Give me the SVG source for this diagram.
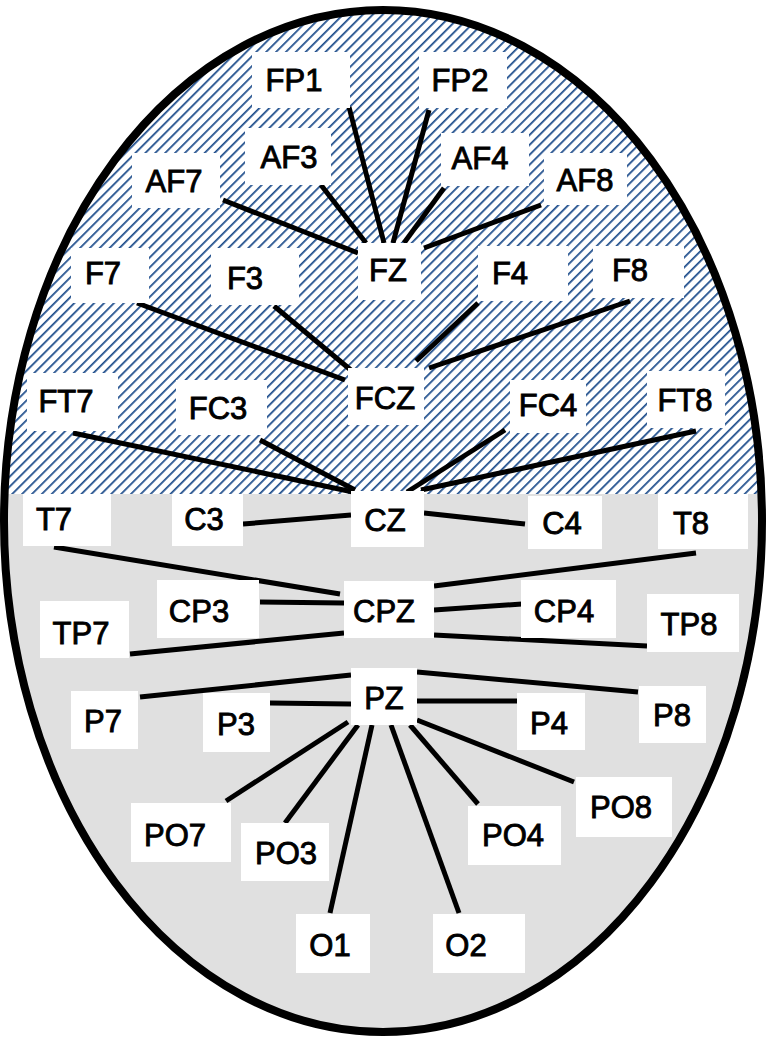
<svg xmlns="http://www.w3.org/2000/svg" width="767" height="1038" viewBox="0 0 767 1038">
<style>
.b{fill:#fff}
.t{font-family:"Liberation Sans",Arial,sans-serif;font-size:31px;fill:#000;stroke:#000;stroke-width:0.9;text-anchor:middle}
#edges line{stroke:#000;stroke-width:5}
</style>
<defs>
<pattern id="h" width="7" height="7" patternUnits="userSpaceOnUse" patternTransform="rotate(45)">
<rect width="7" height="7" fill="#fff"/>
<line x1="0" y1="0" x2="0" y2="7" stroke="#1f4e8c" stroke-width="3.5"/>
</pattern>
<clipPath id="c"><ellipse cx="383" cy="521" rx="379" ry="511"/></clipPath>
</defs>
<g clip-path="url(#c)">
<rect x="0" y="0" width="767" height="494" fill="url(#h)"/>
<rect x="0" y="494" width="767" height="544" fill="#e0e0e0"/>
</g>
<ellipse cx="383" cy="521" rx="379" ry="511" fill="none" stroke="#000" stroke-width="8"/>
<g id="edges">
<line x1="349" y1="107" x2="384" y2="243"/>
<line x1="429" y1="110" x2="393" y2="243"/>
<line x1="321" y1="185" x2="366" y2="243"/>
<line x1="444" y1="188" x2="404" y2="243"/>
<line x1="223" y1="200" x2="358" y2="253"/>
<line x1="541" y1="205" x2="424" y2="248"/>
<line x1="137" y1="303" x2="345" y2="380"/>
<line x1="274" y1="306" x2="352" y2="371"/>
<line x1="478" y1="303" x2="416" y2="361"/>
<line x1="630" y1="301" x2="429" y2="368"/>
<line x1="73" y1="433" x2="353" y2="492"/>
<line x1="260" y1="440" x2="355" y2="490"/>
<line x1="505" y1="430" x2="407" y2="492"/>
<line x1="696" y1="431" x2="421" y2="490"/>
<line x1="243" y1="524" x2="351" y2="515"/>
<line x1="424" y1="513" x2="525" y2="524"/>
<line x1="54" y1="547" x2="340" y2="594"/>
<line x1="696" y1="553" x2="434" y2="586"/>
<line x1="260" y1="602" x2="344" y2="603"/>
<line x1="434" y1="610" x2="522" y2="604"/>
<line x1="130" y1="654" x2="344" y2="633"/>
<line x1="434" y1="635" x2="647" y2="646"/>
<line x1="140" y1="697" x2="351" y2="675"/>
<line x1="270" y1="703" x2="351" y2="704"/>
<line x1="417" y1="701" x2="517" y2="701"/>
<line x1="417" y1="672" x2="638" y2="692"/>
<line x1="226" y1="801" x2="348" y2="722"/>
<line x1="285" y1="823" x2="358" y2="725"/>
<line x1="330" y1="913" x2="372" y2="725"/>
<line x1="459" y1="913" x2="391" y2="725"/>
<line x1="478" y1="804" x2="410" y2="725"/>
<line x1="574" y1="782" x2="417" y2="720"/>
</g>
<g id="FP1"><rect class="b" x="252" y="52" width="98" height="56"/><text class="t" x="294" y="91">FP1</text></g>
<g id="FP2"><rect class="b" x="419" y="52" width="88" height="56"/><text class="t" x="460" y="91">FP2</text></g>
<g id="AF3"><rect class="b" x="245" y="128" width="86" height="57"/><text class="t" x="289" y="168">AF3</text></g>
<g id="AF4"><rect class="b" x="441" y="133" width="88" height="53"/><text class="t" x="480" y="169">AF4</text></g>
<g id="AF7"><rect class="b" x="132" y="153" width="88" height="55"/><text class="t" x="174" y="192">AF7</text></g>
<g id="AF8"><rect class="b" x="544" y="153" width="83" height="52"/><text class="t" x="585" y="191">AF8</text></g>
<g id="FZ"><rect class="b" x="358" y="243" width="63" height="57"/><text class="t" x="388" y="281">FZ</text></g>
<g id="F7"><rect class="b" x="71" y="248" width="78" height="55"/><text class="t" x="103" y="284">F7</text></g>
<g id="F3"><rect class="b" x="211" y="248" width="88" height="57"/><text class="t" x="245" y="289">F3</text></g>
<g id="F4"><rect class="b" x="478" y="246" width="90" height="55"/><text class="t" x="510" y="284">F4</text></g>
<g id="F8"><rect class="b" x="593" y="246" width="91" height="52"/><text class="t" x="630" y="281">F8</text></g>
<g id="FCZ"><rect class="b" x="348" y="368" width="76" height="57"/><text class="t" x="385" y="409">FCZ</text></g>
<g id="FT7"><rect class="b" x="27" y="373" width="91" height="58"/><text class="t" x="66" y="412">FT7</text></g>
<g id="FC3"><rect class="b" x="176" y="380" width="91" height="55"/><text class="t" x="218" y="419">FC3</text></g>
<g id="FC4"><rect class="b" x="510" y="380" width="76" height="53"/><text class="t" x="548" y="416">FC4</text></g>
<g id="FT8"><rect class="b" x="647" y="371" width="78" height="57"/><text class="t" x="685" y="411">FT8</text></g>
<g id="T7"><rect class="b" x="23" y="494" width="88" height="52"/><text class="t" x="54" y="530">T7</text></g>
<g id="C3"><rect class="b" x="172" y="494" width="71" height="52"/><text class="t" x="204" y="530">C3</text></g>
<g id="CZ"><rect class="b" x="351" y="491" width="73" height="56"/><text class="t" x="385" y="531">CZ</text></g>
<g id="C4"><rect class="b" x="528" y="496" width="74" height="53"/><text class="t" x="562" y="534">C4</text></g>
<g id="T8"><rect class="b" x="658" y="494" width="90" height="55"/><text class="t" x="691" y="534">T8</text></g>
<g id="CP3"><rect class="b" x="157" y="580" width="102" height="58"/><text class="t" x="199" y="622">CP3</text></g>
<g id="CPZ"><rect class="b" x="344" y="581" width="90" height="57"/><text class="t" x="384" y="622">CPZ</text></g>
<g id="CP4"><rect class="b" x="521" y="580" width="95" height="58"/><text class="t" x="564" y="622">CP4</text></g>
<g id="TP7"><rect class="b" x="40" y="601" width="89" height="57"/><text class="t" x="81" y="644">TP7</text></g>
<g id="TP8"><rect class="b" x="647" y="594" width="92" height="58"/><text class="t" x="689" y="635">TP8</text></g>
<g id="PZ"><rect class="b" x="351" y="668" width="66" height="57"/><text class="t" x="384" y="709">PZ</text></g>
<g id="P7"><rect class="b" x="71" y="691" width="67" height="58"/><text class="t" x="103" y="732">P7</text></g>
<g id="P3"><rect class="b" x="203" y="693" width="67" height="59"/><text class="t" x="236" y="735">P3</text></g>
<g id="P4"><rect class="b" x="517" y="693" width="68" height="57"/><text class="t" x="549" y="734">P4</text></g>
<g id="P8"><rect class="b" x="639" y="686" width="67" height="57"/><text class="t" x="672" y="726">P8</text></g>
<g id="PO7"><rect class="b" x="131" y="803" width="100" height="59"/><text class="t" x="175" y="846">PO7</text></g>
<g id="PO3"><rect class="b" x="241" y="823" width="88" height="58"/><text class="t" x="286" y="864">PO3</text></g>
<g id="PO4"><rect class="b" x="468" y="806" width="93" height="59"/><text class="t" x="513" y="846">PO4</text></g>
<g id="PO8"><rect class="b" x="576" y="777" width="96" height="60"/><text class="t" x="621" y="818">PO8</text></g>
<g id="O1"><rect class="b" x="296" y="914" width="74" height="59"/><text class="t" x="330" y="956">O1</text></g>
<g id="O2"><rect class="b" x="433" y="914" width="92" height="59"/><text class="t" x="466" y="956">O2</text></g>
</svg>
